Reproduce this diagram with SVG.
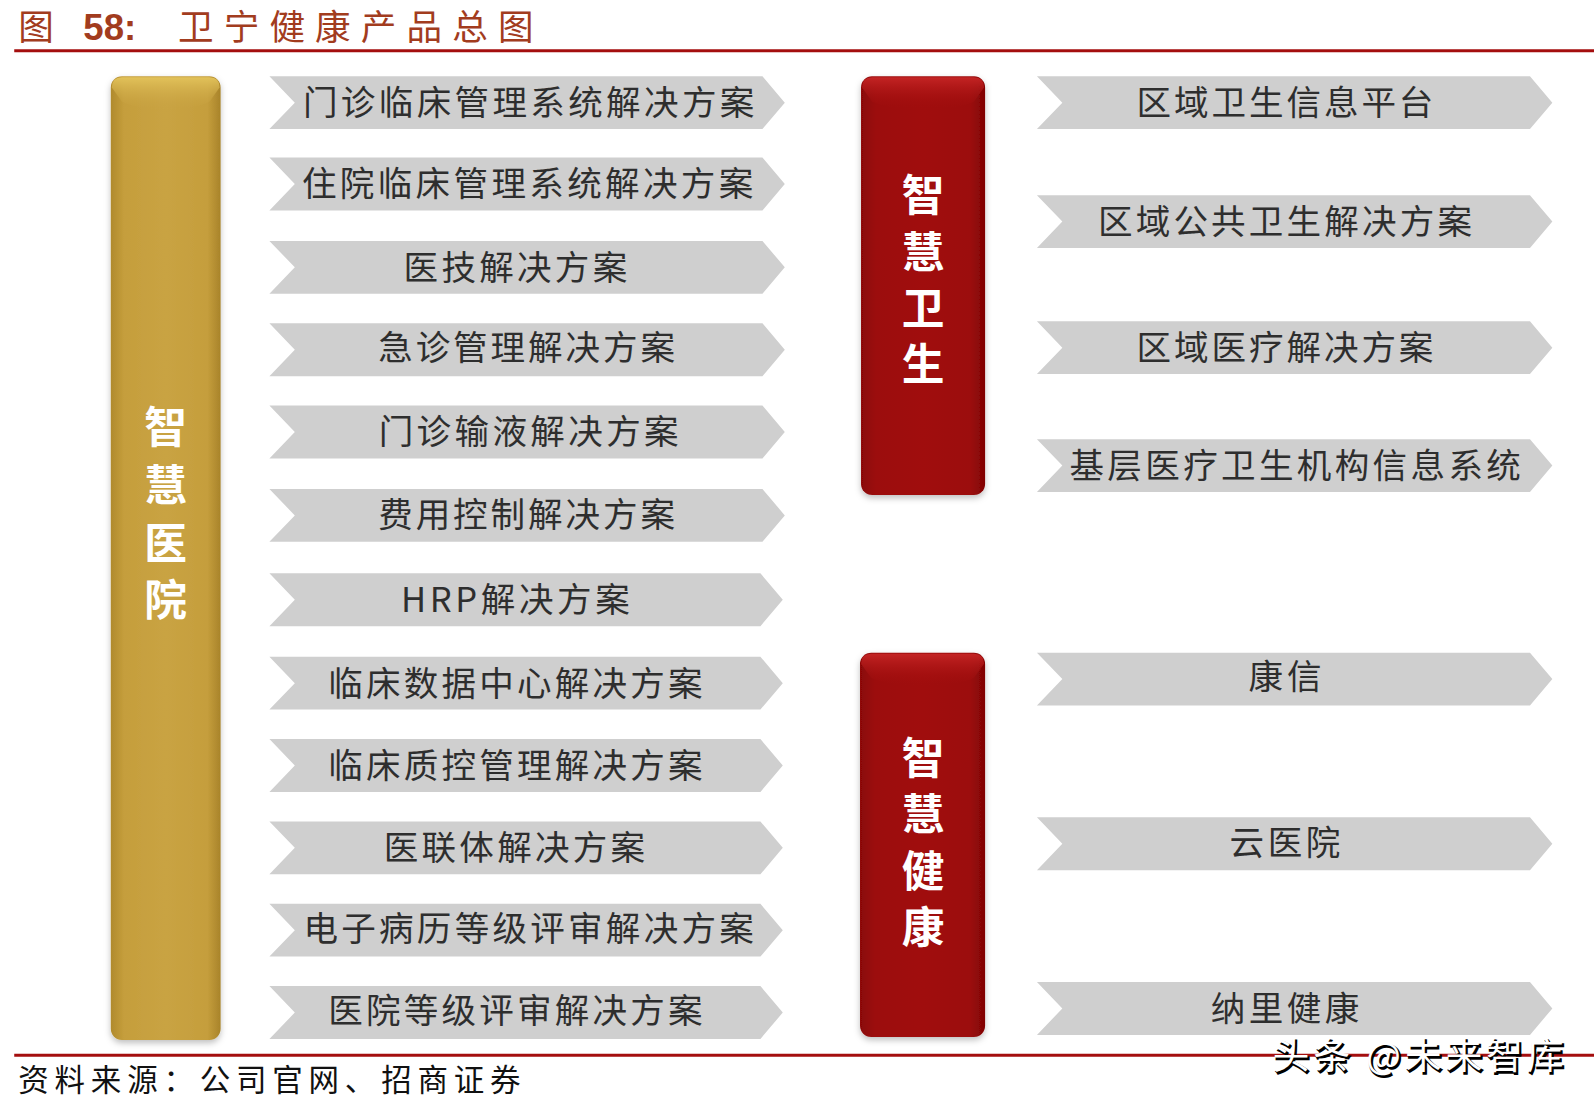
<svg xmlns="http://www.w3.org/2000/svg" width="1594" height="1106" viewBox="0 0 1594 1106">
<defs>
<style>
.cjk{font-family:"Noto Sans CJK SC","Noto Sans",sans-serif;}
.chev{fill:#cfcfcf;}
.ct{font-family:"Noto Sans CJK SC","Noto Sans",sans-serif;font-size:34px;fill:#2e2e2e;text-anchor:middle;}
.vt{font-family:"Noto Sans CJK SC",sans-serif;font-size:42px;font-weight:bold;fill:#ffffff;text-anchor:middle;}
.rule{stroke:#a40e0e;stroke-width:3;}
</style>
<linearGradient id="gold" x1="0" y1="0" x2="1" y2="0">
<stop offset="0" stop-color="#b08a2c"/>
<stop offset="0.12" stop-color="#c59e3c"/>
<stop offset="0.5" stop-color="#c9a343"/>
<stop offset="0.88" stop-color="#c59e3c"/>
<stop offset="1" stop-color="#a8832a"/>
</linearGradient>
<linearGradient id="goldTop" x1="0" y1="0" x2="0" y2="1">
<stop offset="0" stop-color="#e2c25a"/>
<stop offset="1" stop-color="#c9a343" stop-opacity="0"/>
</linearGradient>
<linearGradient id="red" x1="0" y1="0" x2="1" y2="0">
<stop offset="0" stop-color="#8a0606"/>
<stop offset="0.12" stop-color="#9c0b0b"/>
<stop offset="0.5" stop-color="#a00c0c"/>
<stop offset="0.88" stop-color="#9c0b0b"/>
<stop offset="1" stop-color="#800404"/>
</linearGradient>
<linearGradient id="redTop" x1="0" y1="0" x2="0" y2="1">
<stop offset="0" stop-color="#c42424"/>
<stop offset="1" stop-color="#a00c0c" stop-opacity="0"/>
</linearGradient>
<filter id="sh" x="-10%" y="-5%" width="120%" height="110%">
<feDropShadow dx="0" dy="3" stdDeviation="3" flood-color="#000" flood-opacity="0.25"/>
</filter>
</defs>
<rect width="1594" height="1106" fill="#ffffff"/>
<g transform="scale(1.0166)">

<!-- Title -->
<g id="title">
<text x="18" y="39" class="cjk" font-size="35" fill="#a23c1e" letter-spacing="2">图</text>
<text x="82" y="39" font-family="Liberation Sans, Arial, sans-serif" font-size="36" font-weight="bold" fill="#a23c1e">58:</text>
<text x="175" y="39" class="cjk" font-size="35" fill="#a23c1e" letter-spacing="10">卫宁健康产品总图</text>
<line x1="14" y1="50" x2="1580" y2="50" class="rule"/>
</g>

<!-- Gold column -->
<g id="node-zhihui-yiyuan">
<rect x="109" y="75" width="108" height="948" rx="11" fill="url(#gold)" filter="url(#sh)"/>
<path d="M120 76 L206 76 Q216 76 216 86 L206 100 Q190 108 163 108 Q136 108 120 100 L110 86 Q110 76 120 76 Z" fill="url(#goldTop)"/>
<text x="163" y="436" class="vt">智</text>
<text x="163" y="493" class="vt">慧</text>
<text x="163" y="550" class="vt">医</text>
<text x="163" y="606" class="vt">院</text>
</g>

<!-- Red column 1 -->
<g id="node-zhihui-weisheng">
<rect x="847" y="75" width="122" height="412" rx="11" fill="url(#red)" filter="url(#sh)"/>
<path d="M858 76 L958 76 Q968 76 968 86 L958 100 Q940 108 908 108 Q876 108 858 100 L848 86 Q848 76 858 76 Z" fill="url(#redTop)"/>
<text x="908" y="208" class="vt">智</text>
<text x="908" y="264" class="vt">慧</text>
<text x="908" y="319" class="vt">卫</text>
<text x="908" y="374" class="vt">生</text>
</g>

<!-- Red column 2 -->
<g id="node-zhihui-jiankang">
<rect x="846" y="642" width="123" height="378" rx="11" fill="url(#red)" filter="url(#sh)"/>
<path d="M857 643 L958 643 Q968 643 968 653 L958 667 Q940 675 908 675 Q876 675 857 667 L847 653 Q847 643 857 643 Z" fill="url(#redTop)"/>
<text x="908" y="761" class="vt">智</text>
<text x="908" y="816" class="vt">慧</text>
<text x="908" y="873" class="vt">健</text>
<text x="908" y="928" class="vt">康</text>
</g>

<!-- Left chevrons -->
<g id="left-items">
<g id="l1"><polygon class="chev" points="265,75 750,75 772,101 750,127 265,127 290,101"/><text class="ct" x="520" y="113" textLength="444" lengthAdjust="spacing">门诊临床管理系统解决方案</text></g>
<g id="l2"><polygon class="chev" points="265,155 750,155 772,181 750,207 265,207 290,181"/><text class="ct" x="519" y="193" textLength="444" lengthAdjust="spacing">住院临床管理系统解决方案</text></g>
<g id="l3"><polygon class="chev" points="265,237 750,237 772,263 750,289 265,289 290,263"/><text class="ct" x="507" y="275" textLength="220" lengthAdjust="spacing">医技解决方案</text></g>
<g id="l4"><polygon class="chev" points="265,318 750,318 772,344 750,370 265,370 290,344"/><text class="ct" x="518" y="354" textLength="292" lengthAdjust="spacing">急诊管理解决方案</text></g>
<g id="l5"><polygon class="chev" points="265,399 750,399 772,425 750,451 265,451 290,425"/><text class="ct" x="520" y="437" textLength="295" lengthAdjust="spacing">门诊输液解决方案</text></g>
<g id="l6"><polygon class="chev" points="265,481 750,481 772,507 750,533 265,533 290,507"/><text class="ct" x="518" y="518" textLength="292" lengthAdjust="spacing">费用控制解决方案</text></g>
<g id="l7"><polygon class="chev" points="265,564 748,564 770,590 748,616 265,616 290,590"/><text class="ct" x="507" y="602" textLength="225" lengthAdjust="spacing">HRP解决方案</text></g>
<g id="l8"><polygon class="chev" points="265,646 748,646 770,672 748,698 265,698 290,672"/><text class="ct" x="507" y="685" textLength="368" lengthAdjust="spacing">临床数据中心解决方案</text></g>
<g id="l9"><polygon class="chev" points="265,727 748,727 770,753 748,779 265,779 290,753"/><text class="ct" x="507" y="765" textLength="368" lengthAdjust="spacing">临床质控管理解决方案</text></g>
<g id="l10"><polygon class="chev" points="265,808 748,808 770,834 748,860 265,860 290,834"/><text class="ct" x="506" y="846" textLength="257" lengthAdjust="spacing">医联体解决方案</text></g>
<g id="l11"><polygon class="chev" points="265,889 748,889 770,915 748,941 265,941 290,915"/><text class="ct" x="520" y="926" textLength="443" lengthAdjust="spacing">电子病历等级评审解决方案</text></g>
<g id="l12"><polygon class="chev" points="265,970 748,970 770,996 748,1022 265,1022 290,996"/><text class="ct" x="507" y="1006" textLength="368" lengthAdjust="spacing">医院等级评审解决方案</text></g>
</g>

<!-- Right chevrons -->
<g id="right-items">
<g id="r1"><polygon class="chev" points="1020,75 1505,75 1527,101 1505,127 1020,127 1045,101"/><text class="ct" x="1264" y="113" textLength="292" lengthAdjust="spacing">区域卫生信息平台</text></g>
<g id="r2"><polygon class="chev" points="1020,192 1505,192 1527,218 1505,244 1020,244 1045,218"/><text class="ct" x="1264" y="230" textLength="368" lengthAdjust="spacing">区域公共卫生解决方案</text></g>
<g id="r3"><polygon class="chev" points="1020,316 1505,316 1527,342 1505,368 1020,368 1045,342"/><text class="ct" x="1264" y="354" textLength="292" lengthAdjust="spacing">区域医疗解决方案</text></g>
<g id="r4"><polygon class="chev" points="1020,432 1505,432 1527,458 1505,484 1020,484 1045,458"/><text class="ct" x="1274" y="470" textLength="444" lengthAdjust="spacing">基层医疗卫生机构信息系统</text></g>
<g id="r5"><polygon class="chev" points="1020,642 1505,642 1527,668 1505,694 1020,694 1045,668"/><text class="ct" x="1264" y="678" textLength="72" lengthAdjust="spacing">康信</text></g>
<g id="r6"><polygon class="chev" points="1020,804 1505,804 1527,830 1505,856 1020,856 1045,830"/><text class="ct" x="1264" y="841" textLength="109" lengthAdjust="spacing">云医院</text></g>
<g id="r7"><polygon class="chev" points="1020,966 1505,966 1527,992 1505,1018 1020,1018 1045,992"/><text class="ct" x="1264" y="1004" textLength="146" lengthAdjust="spacing">纳里健康</text></g>
</g>

<g id="connectors"></g>

<!-- Footer -->
<g id="footer">
<line x1="14" y1="1038" x2="1580" y2="1038" class="rule"/>
<text x="18" y="1073" class="cjk" font-size="30" fill="#111" textLength="494" lengthAdjust="spacing">资料来源：公司官网、招商证券</text>
<text x="1253.5" y="1053.5" class="cjk" font-size="36" fill="#000" stroke="#000" stroke-width="1.5" textLength="286" lengthAdjust="spacing">头条 @未来智库</text>
<text x="1252" y="1052" class="cjk" font-size="36" fill="#ffffff" textLength="286" lengthAdjust="spacing">头条 @未来智库</text>
</g>
</g>
</svg>
